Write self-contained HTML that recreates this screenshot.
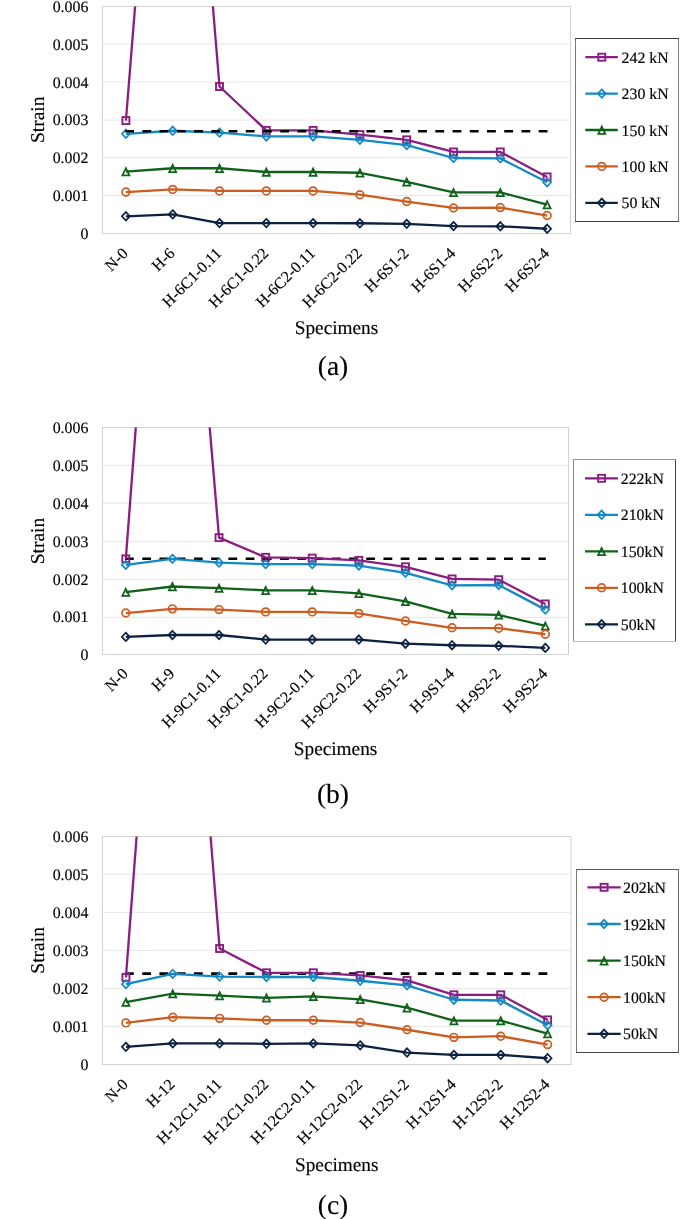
<!DOCTYPE html>
<html><head><meta charset="utf-8"><title>Strain vs Specimens</title>
<style>
html,body{margin:0;padding:0;background:#fff;}
body{width:685px;height:1219px;position:relative;overflow:hidden;}
svg text{font-family:"Liberation Serif",serif;fill:#000;stroke:#000;stroke-width:0.15px;text-rendering:geometricPrecision;}
svg{will-change:transform;}
</style></head><body>
<svg width="685" height="1219" viewBox="0 0 685 1219" style="position:absolute;left:0;top:0">
<g><line x1="102.5" y1="44.05" x2="570.5" y2="44.05" stroke="#e6e6e6" stroke-width="1"/>
<line x1="102.5" y1="82" x2="570.5" y2="82" stroke="#e6e6e6" stroke-width="1"/>
<line x1="102.5" y1="120.1" x2="570.5" y2="120.1" stroke="#e6e6e6" stroke-width="1"/>
<line x1="102.5" y1="157.7" x2="570.5" y2="157.7" stroke="#e6e6e6" stroke-width="1"/>
<line x1="102.5" y1="195.6" x2="570.5" y2="195.6" stroke="#e6e6e6" stroke-width="1"/>
<rect x="102.5" y="6.5" width="468" height="227" fill="none" stroke="#d2d2d2" stroke-width="1"/>
<text x="88.4" y="238.9" text-anchor="end" font-size="15.9">0</text>
<text x="88.4" y="201.07" text-anchor="end" font-size="15.9">0.001</text>
<text x="88.4" y="163.23" text-anchor="end" font-size="15.9">0.002</text>
<text x="88.4" y="125.4" text-anchor="end" font-size="15.9">0.003</text>
<text x="88.4" y="87.57" text-anchor="end" font-size="15.9">0.004</text>
<text x="88.4" y="49.73" text-anchor="end" font-size="15.9">0.005</text>
<text x="88.4" y="11.9" text-anchor="end" font-size="15.9">0.006</text>
<path d="M125.9 120.56L135.1 6.3" fill="none" stroke="#8a1e80" stroke-width="2.3" stroke-linejoin="round" stroke-linecap="butt"/>
<path d="M212.9 6.3L219.5 86.51L266.3 130.39L313.1 130.39L359.9 134.56L406.7 139.85L453.5 151.96L500.3 151.96L547.1 176.93" fill="none" stroke="#8a1e80" stroke-width="2.3" stroke-linejoin="round" stroke-linecap="butt"/>
<rect x="122.4" y="117.06" width="7" height="7" fill="none" stroke="#8a1e80" stroke-width="1.9"/>
<rect x="216" y="83.01" width="7" height="7" fill="none" stroke="#8a1e80" stroke-width="1.9"/>
<rect x="262.8" y="126.89" width="7" height="7" fill="none" stroke="#8a1e80" stroke-width="1.9"/>
<rect x="309.6" y="126.89" width="7" height="7" fill="none" stroke="#8a1e80" stroke-width="1.9"/>
<rect x="356.4" y="131.06" width="7" height="7" fill="none" stroke="#8a1e80" stroke-width="1.9"/>
<rect x="403.2" y="136.35" width="7" height="7" fill="none" stroke="#8a1e80" stroke-width="1.9"/>
<rect x="450" y="148.46" width="7" height="7" fill="none" stroke="#8a1e80" stroke-width="1.9"/>
<rect x="496.8" y="148.46" width="7" height="7" fill="none" stroke="#8a1e80" stroke-width="1.9"/>
<rect x="543.6" y="173.43" width="7" height="7" fill="none" stroke="#8a1e80" stroke-width="1.9"/>
<path d="M125.9 133.8L172.7 130.77L219.5 132.66L266.3 136.45L313.1 136.45L359.9 139.85L406.7 145.15L453.5 158.01L500.3 158.39L547.1 182.22" fill="none" stroke="#1489c4" stroke-width="2.3" stroke-linejoin="round" stroke-linecap="butt"/>
<path d="M125.9 129.6L129.9 133.8L125.9 138L121.9 133.8Z" fill="none" stroke="#1489c4" stroke-width="1.7" stroke-linejoin="miter"/>
<path d="M172.7 126.57L176.7 130.77L172.7 134.97L168.7 130.77Z" fill="none" stroke="#1489c4" stroke-width="1.7" stroke-linejoin="miter"/>
<path d="M219.5 128.46L223.5 132.66L219.5 136.86L215.5 132.66Z" fill="none" stroke="#1489c4" stroke-width="1.7" stroke-linejoin="miter"/>
<path d="M266.3 132.25L270.3 136.45L266.3 140.65L262.3 136.45Z" fill="none" stroke="#1489c4" stroke-width="1.7" stroke-linejoin="miter"/>
<path d="M313.1 132.25L317.1 136.45L313.1 140.65L309.1 136.45Z" fill="none" stroke="#1489c4" stroke-width="1.7" stroke-linejoin="miter"/>
<path d="M359.9 135.65L363.9 139.85L359.9 144.05L355.9 139.85Z" fill="none" stroke="#1489c4" stroke-width="1.7" stroke-linejoin="miter"/>
<path d="M406.7 140.95L410.7 145.15L406.7 149.35L402.7 145.15Z" fill="none" stroke="#1489c4" stroke-width="1.7" stroke-linejoin="miter"/>
<path d="M453.5 153.81L457.5 158.01L453.5 162.21L449.5 158.01Z" fill="none" stroke="#1489c4" stroke-width="1.7" stroke-linejoin="miter"/>
<path d="M500.3 154.19L504.3 158.39L500.3 162.59L496.3 158.39Z" fill="none" stroke="#1489c4" stroke-width="1.7" stroke-linejoin="miter"/>
<path d="M547.1 178.03L551.1 182.22L547.1 186.42L543.1 182.22Z" fill="none" stroke="#1489c4" stroke-width="1.7" stroke-linejoin="miter"/>
<path d="M125.9 171.63L172.7 168.23L219.5 168.23L266.3 172.01L313.1 172.01L359.9 172.77L406.7 181.85L453.5 192.44L500.3 192.44L547.1 204.55" fill="none" stroke="#10621a" stroke-width="2.3" stroke-linejoin="round" stroke-linecap="butt"/>
<path d="M125.9 168.23L129.4 175.43L122.4 175.43Z" fill="none" stroke="#10621a" stroke-width="1.75" stroke-linejoin="miter"/>
<path d="M172.7 164.83L176.2 172.03L169.2 172.03Z" fill="none" stroke="#10621a" stroke-width="1.75" stroke-linejoin="miter"/>
<path d="M219.5 164.83L223 172.03L216 172.03Z" fill="none" stroke="#10621a" stroke-width="1.75" stroke-linejoin="miter"/>
<path d="M266.3 168.61L269.8 175.81L262.8 175.81Z" fill="none" stroke="#10621a" stroke-width="1.75" stroke-linejoin="miter"/>
<path d="M313.1 168.61L316.6 175.81L309.6 175.81Z" fill="none" stroke="#10621a" stroke-width="1.75" stroke-linejoin="miter"/>
<path d="M359.9 169.37L363.4 176.57L356.4 176.57Z" fill="none" stroke="#10621a" stroke-width="1.75" stroke-linejoin="miter"/>
<path d="M406.7 178.45L410.2 185.65L403.2 185.65Z" fill="none" stroke="#10621a" stroke-width="1.75" stroke-linejoin="miter"/>
<path d="M453.5 189.04L457 196.24L450 196.24Z" fill="none" stroke="#10621a" stroke-width="1.75" stroke-linejoin="miter"/>
<path d="M500.3 189.04L503.8 196.24L496.8 196.24Z" fill="none" stroke="#10621a" stroke-width="1.75" stroke-linejoin="miter"/>
<path d="M547.1 201.15L550.6 208.35L543.6 208.35Z" fill="none" stroke="#10621a" stroke-width="1.75" stroke-linejoin="miter"/>
<path d="M125.9 192.06L172.7 189.41L219.5 190.93L266.3 190.93L313.1 190.93L359.9 194.71L406.7 201.52L453.5 207.95L500.3 207.57L547.1 215.52" fill="none" stroke="#cc5c20" stroke-width="2.3" stroke-linejoin="round" stroke-linecap="butt"/>
<circle cx="125.9" cy="192.06" r="3.85" fill="none" stroke="#cc5c20" stroke-width="1.7"/>
<circle cx="172.7" cy="189.41" r="3.85" fill="none" stroke="#cc5c20" stroke-width="1.7"/>
<circle cx="219.5" cy="190.93" r="3.85" fill="none" stroke="#cc5c20" stroke-width="1.7"/>
<circle cx="266.3" cy="190.93" r="3.85" fill="none" stroke="#cc5c20" stroke-width="1.7"/>
<circle cx="313.1" cy="190.93" r="3.85" fill="none" stroke="#cc5c20" stroke-width="1.7"/>
<circle cx="359.9" cy="194.71" r="3.85" fill="none" stroke="#cc5c20" stroke-width="1.7"/>
<circle cx="406.7" cy="201.52" r="3.85" fill="none" stroke="#cc5c20" stroke-width="1.7"/>
<circle cx="453.5" cy="207.95" r="3.85" fill="none" stroke="#cc5c20" stroke-width="1.7"/>
<circle cx="500.3" cy="207.57" r="3.85" fill="none" stroke="#cc5c20" stroke-width="1.7"/>
<circle cx="547.1" cy="215.52" r="3.85" fill="none" stroke="#cc5c20" stroke-width="1.7"/>
<path d="M125.9 216.28L172.7 214.38L219.5 223.09L266.3 223.09L313.1 223.09L359.9 223.27L406.7 223.84L453.5 226.11L500.3 226.3L547.1 228.76" fill="none" stroke="#0c2140" stroke-width="2.3" stroke-linejoin="round" stroke-linecap="butt"/>
<path d="M125.9 212.08L129.9 216.28L125.9 220.47L121.9 216.28Z" fill="none" stroke="#0c2140" stroke-width="1.7" stroke-linejoin="miter"/>
<path d="M172.7 210.18L176.7 214.38L172.7 218.58L168.7 214.38Z" fill="none" stroke="#0c2140" stroke-width="1.7" stroke-linejoin="miter"/>
<path d="M219.5 218.89L223.5 223.09L219.5 227.28L215.5 223.09Z" fill="none" stroke="#0c2140" stroke-width="1.7" stroke-linejoin="miter"/>
<path d="M266.3 218.89L270.3 223.09L266.3 227.28L262.3 223.09Z" fill="none" stroke="#0c2140" stroke-width="1.7" stroke-linejoin="miter"/>
<path d="M313.1 218.89L317.1 223.09L313.1 227.28L309.1 223.09Z" fill="none" stroke="#0c2140" stroke-width="1.7" stroke-linejoin="miter"/>
<path d="M359.9 219.07L363.9 223.27L359.9 227.47L355.9 223.27Z" fill="none" stroke="#0c2140" stroke-width="1.7" stroke-linejoin="miter"/>
<path d="M406.7 219.64L410.7 223.84L406.7 228.04L402.7 223.84Z" fill="none" stroke="#0c2140" stroke-width="1.7" stroke-linejoin="miter"/>
<path d="M453.5 221.91L457.5 226.11L453.5 230.31L449.5 226.11Z" fill="none" stroke="#0c2140" stroke-width="1.7" stroke-linejoin="miter"/>
<path d="M500.3 222.1L504.3 226.3L500.3 230.5L496.3 226.3Z" fill="none" stroke="#0c2140" stroke-width="1.7" stroke-linejoin="miter"/>
<path d="M547.1 224.56L551.1 228.76L547.1 232.96L543.1 228.76Z" fill="none" stroke="#0c2140" stroke-width="1.7" stroke-linejoin="miter"/>
<line x1="125.2" y1="131.2" x2="548.3" y2="131.2" stroke="#000" stroke-width="2.6" stroke-dasharray="8.8 8.43"/>
<text x="128.9" y="254.3" text-anchor="end" font-size="16.0" transform="rotate(-45 128.9 254.3)">N-0</text>
<text x="175.7" y="254.3" text-anchor="end" font-size="16.0" transform="rotate(-45 175.7 254.3)">H-6</text>
<text x="222.5" y="254.3" text-anchor="end" font-size="16.0" transform="rotate(-45 222.5 254.3)">H-6C1-0.11</text>
<text x="269.3" y="254.3" text-anchor="end" font-size="16.0" transform="rotate(-45 269.3 254.3)">H-6C1-0.22</text>
<text x="316.1" y="254.3" text-anchor="end" font-size="16.0" transform="rotate(-45 316.1 254.3)">H-6C2-0.11</text>
<text x="362.9" y="254.3" text-anchor="end" font-size="16.0" transform="rotate(-45 362.9 254.3)">H-6C2-0.22</text>
<text x="409.7" y="254.3" text-anchor="end" font-size="16.0" transform="rotate(-45 409.7 254.3)">H-6S1-2</text>
<text x="456.5" y="254.3" text-anchor="end" font-size="16.0" transform="rotate(-45 456.5 254.3)">H-6S1-4</text>
<text x="503.3" y="254.3" text-anchor="end" font-size="16.0" transform="rotate(-45 503.3 254.3)">H-6S2-2</text>
<text x="550.1" y="254.3" text-anchor="end" font-size="16.0" transform="rotate(-45 550.1 254.3)">H-6S2-4</text>
<text x="44.3" y="119.8" text-anchor="middle" font-size="19.5" transform="rotate(-90 44.3 119.8)">Strain</text>
<text x="336.5" y="333.7" text-anchor="middle" font-size="19.3">Specimens</text>
<text x="333" y="374.7" text-anchor="middle" font-size="27.5">(a)</text>
<rect x="575.5" y="38.5" width="103" height="183" fill="#fff"/>
<line x1="575" y1="38.5" x2="679" y2="38.5" stroke="#3c3c3c" stroke-width="1"/>
<line x1="575" y1="221.5" x2="679" y2="221.5" stroke="#3c3c3c" stroke-width="1"/>
<line x1="575.5" y1="39" x2="575.5" y2="221" stroke="#787878" stroke-width="1"/>
<line x1="678.5" y1="39" x2="678.5" y2="221" stroke="#7c7c7c" stroke-width="1"/>
<line x1="585.3" y1="57.2" x2="617.8" y2="57.2" stroke="#8a1e80" stroke-width="2.3"/>
<rect x="598.3" y="53.7" width="7" height="7" fill="none" stroke="#8a1e80" stroke-width="1.9"/>
<text x="621.6" y="62.7" font-size="15.8">242 kN</text>
<line x1="585.3" y1="93.6" x2="617.8" y2="93.6" stroke="#1489c4" stroke-width="2.3"/>
<path d="M601.8 89.4L605.8 93.6L601.8 97.8L597.8 93.6Z" fill="none" stroke="#1489c4" stroke-width="1.7" stroke-linejoin="miter"/>
<text x="621.6" y="99.1" font-size="15.8">230 kN</text>
<line x1="585.3" y1="130" x2="617.8" y2="130" stroke="#10621a" stroke-width="2.3"/>
<path d="M601.8 126.6L605.3 133.8L598.3 133.8Z" fill="none" stroke="#10621a" stroke-width="1.75" stroke-linejoin="miter"/>
<text x="621.6" y="135.5" font-size="15.8">150 kN</text>
<line x1="585.3" y1="166.4" x2="617.8" y2="166.4" stroke="#cc5c20" stroke-width="2.3"/>
<circle cx="601.8" cy="166.4" r="3.85" fill="none" stroke="#cc5c20" stroke-width="1.7"/>
<text x="621.6" y="171.9" font-size="15.8">100 kN</text>
<line x1="585.3" y1="202.8" x2="617.8" y2="202.8" stroke="#0c2140" stroke-width="2.3"/>
<path d="M601.8 198.6L605.8 202.8L601.8 207L597.8 202.8Z" fill="none" stroke="#0c2140" stroke-width="1.7" stroke-linejoin="miter"/>
<text x="621.6" y="208.3" font-size="15.8">50 kN</text></g>
<g><line x1="102.5" y1="465.4" x2="568.5" y2="465.4" stroke="#e6e6e6" stroke-width="1"/>
<line x1="102.5" y1="503.2" x2="568.5" y2="503.2" stroke="#e6e6e6" stroke-width="1"/>
<line x1="102.5" y1="541.4" x2="568.5" y2="541.4" stroke="#e6e6e6" stroke-width="1"/>
<line x1="102.5" y1="579.7" x2="568.5" y2="579.7" stroke="#e6e6e6" stroke-width="1"/>
<line x1="102.5" y1="617.4" x2="568.5" y2="617.4" stroke="#e6e6e6" stroke-width="1"/>
<rect x="102.5" y="427.5" width="466" height="227" fill="none" stroke="#d2d2d2" stroke-width="1"/>
<text x="88.4" y="660.3" text-anchor="end" font-size="15.9">0</text>
<text x="88.4" y="622.42" text-anchor="end" font-size="15.9">0.001</text>
<text x="88.4" y="584.53" text-anchor="end" font-size="15.9">0.002</text>
<text x="88.4" y="546.65" text-anchor="end" font-size="15.9">0.003</text>
<text x="88.4" y="508.77" text-anchor="end" font-size="15.9">0.004</text>
<text x="88.4" y="470.88" text-anchor="end" font-size="15.9">0.005</text>
<text x="88.4" y="433" text-anchor="end" font-size="15.9">0.006</text>
<line x1="125" y1="558.7" x2="545.8" y2="558.7" stroke="#000" stroke-width="2.6" stroke-dasharray="8.8 8.43"/>
<path d="M125.81 558.86L135.8 427.4" fill="none" stroke="#8a1e80" stroke-width="2.3" stroke-linejoin="round" stroke-linecap="butt"/>
<path d="M209.7 427.4L219.03 537.64L265.63 557.34L312.25 558.1L358.86 560.37L405.46 566.81L452.07 578.93L498.69 579.69L545.3 603.94" fill="none" stroke="#8a1e80" stroke-width="2.3" stroke-linejoin="round" stroke-linecap="butt"/>
<rect x="122.31" y="555.36" width="7" height="7" fill="none" stroke="#8a1e80" stroke-width="1.9"/>
<rect x="215.53" y="534.14" width="7" height="7" fill="none" stroke="#8a1e80" stroke-width="1.9"/>
<rect x="262.13" y="553.84" width="7" height="7" fill="none" stroke="#8a1e80" stroke-width="1.9"/>
<rect x="308.75" y="554.6" width="7" height="7" fill="none" stroke="#8a1e80" stroke-width="1.9"/>
<rect x="355.36" y="556.87" width="7" height="7" fill="none" stroke="#8a1e80" stroke-width="1.9"/>
<rect x="401.96" y="563.31" width="7" height="7" fill="none" stroke="#8a1e80" stroke-width="1.9"/>
<rect x="448.57" y="575.43" width="7" height="7" fill="none" stroke="#8a1e80" stroke-width="1.9"/>
<rect x="495.19" y="576.19" width="7" height="7" fill="none" stroke="#8a1e80" stroke-width="1.9"/>
<rect x="541.8" y="600.44" width="7" height="7" fill="none" stroke="#8a1e80" stroke-width="1.9"/>
<path d="M125.81 564.92L172.41 558.86L219.03 562.64L265.63 564.16L312.25 564.16L358.86 565.67L405.46 572.87L452.07 585.37L498.69 584.99L545.3 609.62" fill="none" stroke="#1489c4" stroke-width="2.3" stroke-linejoin="round" stroke-linecap="butt"/>
<path d="M125.81 560.72L129.81 564.92L125.81 569.12L121.81 564.92Z" fill="none" stroke="#1489c4" stroke-width="1.7" stroke-linejoin="miter"/>
<path d="M172.41 554.66L176.41 558.86L172.41 563.06L168.41 558.86Z" fill="none" stroke="#1489c4" stroke-width="1.7" stroke-linejoin="miter"/>
<path d="M219.03 558.44L223.03 562.64L219.03 566.84L215.03 562.64Z" fill="none" stroke="#1489c4" stroke-width="1.7" stroke-linejoin="miter"/>
<path d="M265.63 559.96L269.63 564.16L265.63 568.36L261.63 564.16Z" fill="none" stroke="#1489c4" stroke-width="1.7" stroke-linejoin="miter"/>
<path d="M312.25 559.96L316.25 564.16L312.25 568.36L308.25 564.16Z" fill="none" stroke="#1489c4" stroke-width="1.7" stroke-linejoin="miter"/>
<path d="M358.86 561.47L362.86 565.67L358.86 569.87L354.86 565.67Z" fill="none" stroke="#1489c4" stroke-width="1.7" stroke-linejoin="miter"/>
<path d="M405.46 568.67L409.46 572.87L405.46 577.07L401.46 572.87Z" fill="none" stroke="#1489c4" stroke-width="1.7" stroke-linejoin="miter"/>
<path d="M452.07 581.17L456.07 585.37L452.07 589.57L448.07 585.37Z" fill="none" stroke="#1489c4" stroke-width="1.7" stroke-linejoin="miter"/>
<path d="M498.69 580.79L502.69 584.99L498.69 589.19L494.69 584.99Z" fill="none" stroke="#1489c4" stroke-width="1.7" stroke-linejoin="miter"/>
<path d="M545.3 605.42L549.3 609.62L545.3 613.82L541.3 609.62Z" fill="none" stroke="#1489c4" stroke-width="1.7" stroke-linejoin="miter"/>
<path d="M125.81 592.19L172.41 586.51L219.03 588.03L265.63 590.3L312.25 590.3L358.86 593.33L405.46 601.28L452.07 613.79L498.69 614.92L545.3 625.91" fill="none" stroke="#10621a" stroke-width="2.3" stroke-linejoin="round" stroke-linecap="butt"/>
<path d="M125.81 588.79L129.31 595.99L122.31 595.99Z" fill="none" stroke="#10621a" stroke-width="1.75" stroke-linejoin="miter"/>
<path d="M172.41 583.11L175.91 590.31L168.91 590.31Z" fill="none" stroke="#10621a" stroke-width="1.75" stroke-linejoin="miter"/>
<path d="M219.03 584.63L222.53 591.83L215.53 591.83Z" fill="none" stroke="#10621a" stroke-width="1.75" stroke-linejoin="miter"/>
<path d="M265.63 586.9L269.13 594.1L262.13 594.1Z" fill="none" stroke="#10621a" stroke-width="1.75" stroke-linejoin="miter"/>
<path d="M312.25 586.9L315.75 594.1L308.75 594.1Z" fill="none" stroke="#10621a" stroke-width="1.75" stroke-linejoin="miter"/>
<path d="M358.86 589.93L362.36 597.13L355.36 597.13Z" fill="none" stroke="#10621a" stroke-width="1.75" stroke-linejoin="miter"/>
<path d="M405.46 597.88L408.96 605.08L401.96 605.08Z" fill="none" stroke="#10621a" stroke-width="1.75" stroke-linejoin="miter"/>
<path d="M452.07 610.39L455.57 617.59L448.57 617.59Z" fill="none" stroke="#10621a" stroke-width="1.75" stroke-linejoin="miter"/>
<path d="M498.69 611.52L502.19 618.72L495.19 618.72Z" fill="none" stroke="#10621a" stroke-width="1.75" stroke-linejoin="miter"/>
<path d="M545.3 622.51L548.8 629.71L541.8 629.71Z" fill="none" stroke="#10621a" stroke-width="1.75" stroke-linejoin="miter"/>
<path d="M125.81 613.03L172.41 608.86L219.03 609.62L265.63 611.89L312.25 611.89L358.86 613.41L405.46 620.98L452.07 627.8L498.69 628.18L545.3 634.24" fill="none" stroke="#cc5c20" stroke-width="2.3" stroke-linejoin="round" stroke-linecap="butt"/>
<circle cx="125.81" cy="613.03" r="3.85" fill="none" stroke="#cc5c20" stroke-width="1.7"/>
<circle cx="172.41" cy="608.86" r="3.85" fill="none" stroke="#cc5c20" stroke-width="1.7"/>
<circle cx="219.03" cy="609.62" r="3.85" fill="none" stroke="#cc5c20" stroke-width="1.7"/>
<circle cx="265.63" cy="611.89" r="3.85" fill="none" stroke="#cc5c20" stroke-width="1.7"/>
<circle cx="312.25" cy="611.89" r="3.85" fill="none" stroke="#cc5c20" stroke-width="1.7"/>
<circle cx="358.86" cy="613.41" r="3.85" fill="none" stroke="#cc5c20" stroke-width="1.7"/>
<circle cx="405.46" cy="620.98" r="3.85" fill="none" stroke="#cc5c20" stroke-width="1.7"/>
<circle cx="452.07" cy="627.8" r="3.85" fill="none" stroke="#cc5c20" stroke-width="1.7"/>
<circle cx="498.69" cy="628.18" r="3.85" fill="none" stroke="#cc5c20" stroke-width="1.7"/>
<circle cx="545.3" cy="634.24" r="3.85" fill="none" stroke="#cc5c20" stroke-width="1.7"/>
<path d="M125.81 636.89L172.41 635L219.03 635L265.63 639.55L312.25 639.55L358.86 639.55L405.46 643.71L452.07 645.23L498.69 645.8L545.3 647.88" fill="none" stroke="#0c2140" stroke-width="2.3" stroke-linejoin="round" stroke-linecap="butt"/>
<path d="M125.81 632.69L129.81 636.89L125.81 641.09L121.81 636.89Z" fill="none" stroke="#0c2140" stroke-width="1.7" stroke-linejoin="miter"/>
<path d="M172.41 630.8L176.41 635L172.41 639.2L168.41 635Z" fill="none" stroke="#0c2140" stroke-width="1.7" stroke-linejoin="miter"/>
<path d="M219.03 630.8L223.03 635L219.03 639.2L215.03 635Z" fill="none" stroke="#0c2140" stroke-width="1.7" stroke-linejoin="miter"/>
<path d="M265.63 635.35L269.63 639.55L265.63 643.75L261.63 639.55Z" fill="none" stroke="#0c2140" stroke-width="1.7" stroke-linejoin="miter"/>
<path d="M312.25 635.35L316.25 639.55L312.25 643.75L308.25 639.55Z" fill="none" stroke="#0c2140" stroke-width="1.7" stroke-linejoin="miter"/>
<path d="M358.86 635.35L362.86 639.55L358.86 643.75L354.86 639.55Z" fill="none" stroke="#0c2140" stroke-width="1.7" stroke-linejoin="miter"/>
<path d="M405.46 639.51L409.46 643.71L405.46 647.91L401.46 643.71Z" fill="none" stroke="#0c2140" stroke-width="1.7" stroke-linejoin="miter"/>
<path d="M452.07 641.03L456.07 645.23L452.07 649.43L448.07 645.23Z" fill="none" stroke="#0c2140" stroke-width="1.7" stroke-linejoin="miter"/>
<path d="M498.69 641.6L502.69 645.8L498.69 650L494.69 645.8Z" fill="none" stroke="#0c2140" stroke-width="1.7" stroke-linejoin="miter"/>
<path d="M545.3 643.68L549.3 647.88L545.3 652.08L541.3 647.88Z" fill="none" stroke="#0c2140" stroke-width="1.7" stroke-linejoin="miter"/>
<text x="128.81" y="674.7" text-anchor="end" font-size="16.0" transform="rotate(-45 128.81 674.7)">N-0</text>
<text x="175.41" y="674.7" text-anchor="end" font-size="16.0" transform="rotate(-45 175.41 674.7)">H-9</text>
<text x="222.03" y="674.7" text-anchor="end" font-size="16.0" transform="rotate(-45 222.03 674.7)">H-9C1-0.11</text>
<text x="268.63" y="674.7" text-anchor="end" font-size="16.0" transform="rotate(-45 268.63 674.7)">H-9C1-0.22</text>
<text x="315.25" y="674.7" text-anchor="end" font-size="16.0" transform="rotate(-45 315.25 674.7)">H-9C2-0.11</text>
<text x="361.86" y="674.7" text-anchor="end" font-size="16.0" transform="rotate(-45 361.86 674.7)">H-9C2-0.22</text>
<text x="408.46" y="674.7" text-anchor="end" font-size="16.0" transform="rotate(-45 408.46 674.7)">H-9S1-2</text>
<text x="455.07" y="674.7" text-anchor="end" font-size="16.0" transform="rotate(-45 455.07 674.7)">H-9S1-4</text>
<text x="501.69" y="674.7" text-anchor="end" font-size="16.0" transform="rotate(-45 501.69 674.7)">H-9S2-2</text>
<text x="548.3" y="674.7" text-anchor="end" font-size="16.0" transform="rotate(-45 548.3 674.7)">H-9S2-4</text>
<text x="43.6" y="541.05" text-anchor="middle" font-size="19.5" transform="rotate(-90 43.6 541.05)">Strain</text>
<text x="335.55" y="755.1" text-anchor="middle" font-size="19.3">Specimens</text>
<text x="333" y="802.7" text-anchor="middle" font-size="27.5">(b)</text>
<rect x="573.5" y="459.5" width="102" height="182" fill="#fff"/>
<line x1="573" y1="459.5" x2="676" y2="459.5" stroke="#969696" stroke-width="1"/>
<line x1="573" y1="641.5" x2="676" y2="641.5" stroke="#bdbdbd" stroke-width="1"/>
<line x1="573.5" y1="460" x2="573.5" y2="641" stroke="#8a8a8a" stroke-width="1"/>
<line x1="675.5" y1="460" x2="675.5" y2="641" stroke="#444444" stroke-width="1"/>
<line x1="585" y1="478.3" x2="618" y2="478.3" stroke="#8a1e80" stroke-width="2.3"/>
<rect x="598.1" y="474.8" width="7" height="7" fill="none" stroke="#8a1e80" stroke-width="1.9"/>
<text x="620.8" y="483.8" font-size="15.8">222kN</text>
<line x1="585" y1="514.8" x2="618" y2="514.8" stroke="#1489c4" stroke-width="2.3"/>
<path d="M601.6 510.6L605.6 514.8L601.6 519L597.6 514.8Z" fill="none" stroke="#1489c4" stroke-width="1.7" stroke-linejoin="miter"/>
<text x="620.8" y="520.3" font-size="15.8">210kN</text>
<line x1="585" y1="551.3" x2="618" y2="551.3" stroke="#10621a" stroke-width="2.3"/>
<path d="M601.6 547.9L605.1 555.1L598.1 555.1Z" fill="none" stroke="#10621a" stroke-width="1.75" stroke-linejoin="miter"/>
<text x="620.8" y="556.8" font-size="15.8">150kN</text>
<line x1="585" y1="587.8" x2="618" y2="587.8" stroke="#cc5c20" stroke-width="2.3"/>
<circle cx="601.6" cy="587.8" r="3.85" fill="none" stroke="#cc5c20" stroke-width="1.7"/>
<text x="620.8" y="593.3" font-size="15.8">100kN</text>
<line x1="585" y1="624.3" x2="618" y2="624.3" stroke="#0c2140" stroke-width="2.3"/>
<path d="M601.6 620.1L605.6 624.3L601.6 628.5L597.6 624.3Z" fill="none" stroke="#0c2140" stroke-width="1.7" stroke-linejoin="miter"/>
<text x="620.8" y="629.8" font-size="15.8">50kN</text></g>
<g><line x1="102.5" y1="874.2" x2="571" y2="874.2" stroke="#e6e6e6" stroke-width="1"/>
<line x1="102.5" y1="912.4" x2="571" y2="912.4" stroke="#e6e6e6" stroke-width="1"/>
<line x1="102.5" y1="950.4" x2="571" y2="950.4" stroke="#e6e6e6" stroke-width="1"/>
<line x1="102.5" y1="988.4" x2="571" y2="988.4" stroke="#e6e6e6" stroke-width="1"/>
<line x1="102.5" y1="1026.4" x2="571" y2="1026.4" stroke="#e6e6e6" stroke-width="1"/>
<rect x="102.5" y="836.5" width="468.5" height="228" fill="none" stroke="#d2d2d2" stroke-width="1"/>
<text x="88.4" y="1069.9" text-anchor="end" font-size="15.9">0</text>
<text x="88.4" y="1031.93" text-anchor="end" font-size="15.9">0.001</text>
<text x="88.4" y="993.97" text-anchor="end" font-size="15.9">0.002</text>
<text x="88.4" y="956" text-anchor="end" font-size="15.9">0.003</text>
<text x="88.4" y="918.03" text-anchor="end" font-size="15.9">0.004</text>
<text x="88.4" y="880.07" text-anchor="end" font-size="15.9">0.005</text>
<text x="88.4" y="842.1" text-anchor="end" font-size="15.9">0.006</text>
<line x1="125" y1="973.6" x2="548.7" y2="973.6" stroke="#000" stroke-width="2.6" stroke-dasharray="8.8 8.43"/>
<path d="M125.92 977.36L136.6 836.5" fill="none" stroke="#8a1e80" stroke-width="2.3" stroke-linejoin="round" stroke-linecap="butt"/>
<path d="M210.6 836.5L219.62 948.5L266.48 972.8L313.33 972.8L360.18 975.46L407.03 980.39L453.88 994.82L500.73 994.82L547.58 1019.88" fill="none" stroke="#8a1e80" stroke-width="2.3" stroke-linejoin="round" stroke-linecap="butt"/>
<rect x="122.42" y="973.86" width="7" height="7" fill="none" stroke="#8a1e80" stroke-width="1.9"/>
<rect x="216.12" y="945" width="7" height="7" fill="none" stroke="#8a1e80" stroke-width="1.9"/>
<rect x="262.98" y="969.3" width="7" height="7" fill="none" stroke="#8a1e80" stroke-width="1.9"/>
<rect x="309.83" y="969.3" width="7" height="7" fill="none" stroke="#8a1e80" stroke-width="1.9"/>
<rect x="356.68" y="971.96" width="7" height="7" fill="none" stroke="#8a1e80" stroke-width="1.9"/>
<rect x="403.53" y="976.89" width="7" height="7" fill="none" stroke="#8a1e80" stroke-width="1.9"/>
<rect x="450.38" y="991.32" width="7" height="7" fill="none" stroke="#8a1e80" stroke-width="1.9"/>
<rect x="497.23" y="991.32" width="7" height="7" fill="none" stroke="#8a1e80" stroke-width="1.9"/>
<rect x="544.08" y="1016.38" width="7" height="7" fill="none" stroke="#8a1e80" stroke-width="1.9"/>
<path d="M125.92 984.19L172.78 973.94L219.62 976.6L266.48 976.98L313.33 976.98L360.18 980.77L407.03 985.33L453.88 999.76L500.73 1000.52L547.58 1025.19" fill="none" stroke="#1489c4" stroke-width="2.3" stroke-linejoin="round" stroke-linecap="butt"/>
<path d="M125.92 979.99L129.93 984.19L125.92 988.39L121.92 984.19Z" fill="none" stroke="#1489c4" stroke-width="1.7" stroke-linejoin="miter"/>
<path d="M172.78 969.74L176.78 973.94L172.78 978.14L168.78 973.94Z" fill="none" stroke="#1489c4" stroke-width="1.7" stroke-linejoin="miter"/>
<path d="M219.62 972.4L223.62 976.6L219.62 980.8L215.62 976.6Z" fill="none" stroke="#1489c4" stroke-width="1.7" stroke-linejoin="miter"/>
<path d="M266.48 972.78L270.48 976.98L266.48 981.18L262.48 976.98Z" fill="none" stroke="#1489c4" stroke-width="1.7" stroke-linejoin="miter"/>
<path d="M313.33 972.78L317.33 976.98L313.33 981.18L309.33 976.98Z" fill="none" stroke="#1489c4" stroke-width="1.7" stroke-linejoin="miter"/>
<path d="M360.18 976.57L364.18 980.77L360.18 984.97L356.18 980.77Z" fill="none" stroke="#1489c4" stroke-width="1.7" stroke-linejoin="miter"/>
<path d="M407.03 981.13L411.03 985.33L407.03 989.53L403.03 985.33Z" fill="none" stroke="#1489c4" stroke-width="1.7" stroke-linejoin="miter"/>
<path d="M453.88 995.56L457.88 999.76L453.88 1003.96L449.88 999.76Z" fill="none" stroke="#1489c4" stroke-width="1.7" stroke-linejoin="miter"/>
<path d="M500.73 996.32L504.73 1000.52L500.73 1004.72L496.73 1000.52Z" fill="none" stroke="#1489c4" stroke-width="1.7" stroke-linejoin="miter"/>
<path d="M547.58 1020.99L551.58 1025.19L547.58 1029.39L543.58 1025.19Z" fill="none" stroke="#1489c4" stroke-width="1.7" stroke-linejoin="miter"/>
<path d="M125.92 1002.03L172.78 993.68L219.62 995.58L266.48 997.86L313.33 996.34L360.18 999.38L407.03 1007.73L453.88 1020.64L500.73 1020.64L547.58 1033.55" fill="none" stroke="#10621a" stroke-width="2.3" stroke-linejoin="round" stroke-linecap="butt"/>
<path d="M125.92 998.63L129.43 1005.83L122.42 1005.83Z" fill="none" stroke="#10621a" stroke-width="1.75" stroke-linejoin="miter"/>
<path d="M172.78 990.28L176.28 997.48L169.28 997.48Z" fill="none" stroke="#10621a" stroke-width="1.75" stroke-linejoin="miter"/>
<path d="M219.62 992.18L223.12 999.38L216.12 999.38Z" fill="none" stroke="#10621a" stroke-width="1.75" stroke-linejoin="miter"/>
<path d="M266.48 994.46L269.98 1001.66L262.98 1001.66Z" fill="none" stroke="#10621a" stroke-width="1.75" stroke-linejoin="miter"/>
<path d="M313.33 992.94L316.83 1000.14L309.83 1000.14Z" fill="none" stroke="#10621a" stroke-width="1.75" stroke-linejoin="miter"/>
<path d="M360.18 995.98L363.68 1003.18L356.68 1003.18Z" fill="none" stroke="#10621a" stroke-width="1.75" stroke-linejoin="miter"/>
<path d="M407.03 1004.33L410.53 1011.53L403.53 1011.53Z" fill="none" stroke="#10621a" stroke-width="1.75" stroke-linejoin="miter"/>
<path d="M453.88 1017.24L457.38 1024.44L450.38 1024.44Z" fill="none" stroke="#10621a" stroke-width="1.75" stroke-linejoin="miter"/>
<path d="M500.73 1017.24L504.23 1024.44L497.23 1024.44Z" fill="none" stroke="#10621a" stroke-width="1.75" stroke-linejoin="miter"/>
<path d="M547.58 1030.15L551.08 1037.35L544.08 1037.35Z" fill="none" stroke="#10621a" stroke-width="1.75" stroke-linejoin="miter"/>
<path d="M125.92 1022.92L172.78 1017.22L219.62 1018.36L266.48 1020.26L313.33 1020.26L360.18 1022.54L407.03 1029.75L453.88 1037.34L500.73 1036.2L547.58 1044.56" fill="none" stroke="#cc5c20" stroke-width="2.3" stroke-linejoin="round" stroke-linecap="butt"/>
<circle cx="125.92" cy="1022.92" r="3.85" fill="none" stroke="#cc5c20" stroke-width="1.7"/>
<circle cx="172.78" cy="1017.22" r="3.85" fill="none" stroke="#cc5c20" stroke-width="1.7"/>
<circle cx="219.62" cy="1018.36" r="3.85" fill="none" stroke="#cc5c20" stroke-width="1.7"/>
<circle cx="266.48" cy="1020.26" r="3.85" fill="none" stroke="#cc5c20" stroke-width="1.7"/>
<circle cx="313.33" cy="1020.26" r="3.85" fill="none" stroke="#cc5c20" stroke-width="1.7"/>
<circle cx="360.18" cy="1022.54" r="3.85" fill="none" stroke="#cc5c20" stroke-width="1.7"/>
<circle cx="407.03" cy="1029.75" r="3.85" fill="none" stroke="#cc5c20" stroke-width="1.7"/>
<circle cx="453.88" cy="1037.34" r="3.85" fill="none" stroke="#cc5c20" stroke-width="1.7"/>
<circle cx="500.73" cy="1036.2" r="3.85" fill="none" stroke="#cc5c20" stroke-width="1.7"/>
<circle cx="547.58" cy="1044.56" r="3.85" fill="none" stroke="#cc5c20" stroke-width="1.7"/>
<path d="M125.92 1046.84L172.78 1043.42L219.62 1043.42L266.48 1043.8L313.33 1043.42L360.18 1045.32L407.03 1052.53L453.88 1054.81L500.73 1054.81L547.58 1058.23" fill="none" stroke="#0c2140" stroke-width="2.3" stroke-linejoin="round" stroke-linecap="butt"/>
<path d="M125.92 1042.64L129.93 1046.84L125.92 1051.04L121.92 1046.84Z" fill="none" stroke="#0c2140" stroke-width="1.7" stroke-linejoin="miter"/>
<path d="M172.78 1039.22L176.78 1043.42L172.78 1047.62L168.78 1043.42Z" fill="none" stroke="#0c2140" stroke-width="1.7" stroke-linejoin="miter"/>
<path d="M219.62 1039.22L223.62 1043.42L219.62 1047.62L215.62 1043.42Z" fill="none" stroke="#0c2140" stroke-width="1.7" stroke-linejoin="miter"/>
<path d="M266.48 1039.6L270.48 1043.8L266.48 1048L262.48 1043.8Z" fill="none" stroke="#0c2140" stroke-width="1.7" stroke-linejoin="miter"/>
<path d="M313.33 1039.22L317.33 1043.42L313.33 1047.62L309.33 1043.42Z" fill="none" stroke="#0c2140" stroke-width="1.7" stroke-linejoin="miter"/>
<path d="M360.18 1041.12L364.18 1045.32L360.18 1049.52L356.18 1045.32Z" fill="none" stroke="#0c2140" stroke-width="1.7" stroke-linejoin="miter"/>
<path d="M407.03 1048.33L411.03 1052.53L407.03 1056.73L403.03 1052.53Z" fill="none" stroke="#0c2140" stroke-width="1.7" stroke-linejoin="miter"/>
<path d="M453.88 1050.61L457.88 1054.81L453.88 1059.01L449.88 1054.81Z" fill="none" stroke="#0c2140" stroke-width="1.7" stroke-linejoin="miter"/>
<path d="M500.73 1050.61L504.73 1054.81L500.73 1059.01L496.73 1054.81Z" fill="none" stroke="#0c2140" stroke-width="1.7" stroke-linejoin="miter"/>
<path d="M547.58 1054.03L551.58 1058.23L547.58 1062.43L543.58 1058.23Z" fill="none" stroke="#0c2140" stroke-width="1.7" stroke-linejoin="miter"/>
<text x="128.93" y="1085.3" text-anchor="end" font-size="16.0" transform="rotate(-45 128.93 1085.3)">N-0</text>
<text x="175.78" y="1085.3" text-anchor="end" font-size="16.0" transform="rotate(-45 175.78 1085.3)">H-12</text>
<text x="222.62" y="1085.3" text-anchor="end" font-size="16.0" transform="rotate(-45 222.62 1085.3)">H-12C1-0.11</text>
<text x="269.48" y="1085.3" text-anchor="end" font-size="16.0" transform="rotate(-45 269.48 1085.3)">H-12C1-0.22</text>
<text x="316.33" y="1085.3" text-anchor="end" font-size="16.0" transform="rotate(-45 316.33 1085.3)">H-12C2-0.11</text>
<text x="363.18" y="1085.3" text-anchor="end" font-size="16.0" transform="rotate(-45 363.18 1085.3)">H-12C2-0.22</text>
<text x="410.03" y="1085.3" text-anchor="end" font-size="16.0" transform="rotate(-45 410.03 1085.3)">H-12S1-2</text>
<text x="456.88" y="1085.3" text-anchor="end" font-size="16.0" transform="rotate(-45 456.88 1085.3)">H-12S1-4</text>
<text x="503.73" y="1085.3" text-anchor="end" font-size="16.0" transform="rotate(-45 503.73 1085.3)">H-12S2-2</text>
<text x="550.58" y="1085.3" text-anchor="end" font-size="16.0" transform="rotate(-45 550.58 1085.3)">H-12S2-4</text>
<text x="43.6" y="950.4" text-anchor="middle" font-size="19.5" transform="rotate(-90 43.6 950.4)">Strain</text>
<text x="336.75" y="1170.8" text-anchor="middle" font-size="19.3">Specimens</text>
<text x="333" y="1213.5" text-anchor="middle" font-size="27.5">(c)</text>
<rect x="576.5" y="869.5" width="102" height="183" fill="#fff"/>
<line x1="576" y1="869.5" x2="679" y2="869.5" stroke="#5a5a5a" stroke-width="1"/>
<line x1="576" y1="1052.5" x2="679" y2="1052.5" stroke="#444444" stroke-width="1"/>
<line x1="576.5" y1="870" x2="576.5" y2="1052" stroke="#777777" stroke-width="1"/>
<line x1="678.5" y1="870" x2="678.5" y2="1052" stroke="#6a6a6a" stroke-width="1"/>
<line x1="587.4" y1="887.3" x2="620.7" y2="887.3" stroke="#8a1e80" stroke-width="2.3"/>
<rect x="600.6" y="883.8" width="7" height="7" fill="none" stroke="#8a1e80" stroke-width="1.9"/>
<text x="623" y="892.8" font-size="15.8">202kN</text>
<line x1="587.4" y1="924" x2="620.7" y2="924" stroke="#1489c4" stroke-width="2.3"/>
<path d="M604.1 919.8L608.1 924L604.1 928.2L600.1 924Z" fill="none" stroke="#1489c4" stroke-width="1.7" stroke-linejoin="miter"/>
<text x="623" y="929.5" font-size="15.8">192kN</text>
<line x1="587.4" y1="960.7" x2="620.7" y2="960.7" stroke="#10621a" stroke-width="2.3"/>
<path d="M604.1 957.3L607.6 964.5L600.6 964.5Z" fill="none" stroke="#10621a" stroke-width="1.75" stroke-linejoin="miter"/>
<text x="623" y="966.2" font-size="15.8">150kN</text>
<line x1="587.4" y1="997.2" x2="620.7" y2="997.2" stroke="#cc5c20" stroke-width="2.3"/>
<circle cx="604.1" cy="997.2" r="3.85" fill="none" stroke="#cc5c20" stroke-width="1.7"/>
<text x="623" y="1002.7" font-size="15.8">100kN</text>
<line x1="587.4" y1="1033.8" x2="620.7" y2="1033.8" stroke="#0c2140" stroke-width="2.3"/>
<path d="M604.1 1029.6L608.1 1033.8L604.1 1038L600.1 1033.8Z" fill="none" stroke="#0c2140" stroke-width="1.7" stroke-linejoin="miter"/>
<text x="623" y="1039.3" font-size="15.8">50kN</text></g>
</svg>
</body></html>
